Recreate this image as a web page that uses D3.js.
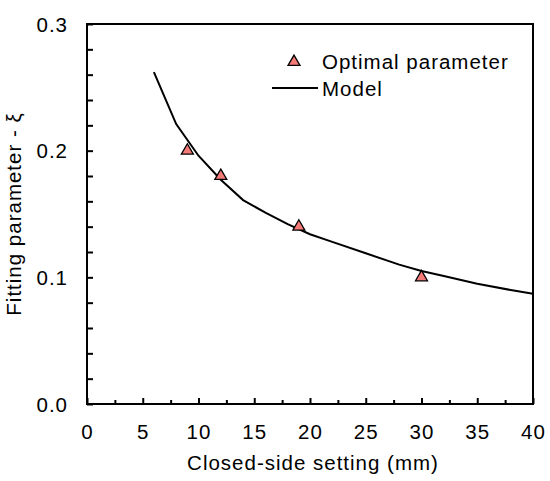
<!DOCTYPE html>
<html>
<head>
<meta charset="utf-8">
<script src="https://cdn.jsdelivr.net/npm/d3@7"></script>
<style>
  body { margin: 0; background: #fff; }
  text { font-family: "Liberation Sans", Arial, sans-serif; font-size: 20.5px; letter-spacing: 1px; fill: #000; }
</style>
</head>
<body>
<script>
// optimal parameter (triangles)
var optX = [9, 12, 19, 30];
var optY = [0.2, 0.18, 0.14, 0.1];

// model curve
var modelX = [6, 8, 10, 12, 14, 16, 18, 20, 22, 25, 28, 30, 32, 35, 38, 40];
var modelY = [0.262, 0.221, 0.196, 0.177, 0.161, 0.151, 0.142, 0.134, 0.128, 0.119, 0.110, 0.105, 0.101, 0.095, 0.090, 0.087];

var xTicks = [0, 5, 10, 15, 20, 25, 30, 35, 40];
var yTicks = [0.0, 0.1, 0.2, 0.3];

var margin = { top: 24, left: 87, right: 17, bottom: 77 },
    width = 550 - margin.left - margin.right,
    height = 481 - margin.top - margin.bottom;

var svg = d3.select('body').append('svg')
    .attr('width', 550)
    .attr('height', 481);

var g = svg.append('g')
    .attr('transform', 'translate(' + margin.left + ',' + margin.top + ')');

var x = d3.scaleLinear().domain([0, 40]).range([0, width]);
var y = d3.scaleLinear().domain([0, 0.3]).range([height, 0]);

// minor ticks (inside)
g.append('g')
    .attr('transform', 'translate(0,' + height + ')')
    .call(d3.axisTop(x).tickValues(d3.range(2.5, 40, 5)).tickSize(4).tickFormat(''))
    .call(function(a) { a.select('.domain').remove(); a.selectAll('line').attr('stroke-width', 2); });

g.append('g')
    .attr('transform', 'translate(0,' + height + ')')
    .call(d3.axisTop(x).tickValues(xTicks).tickSize(6).tickFormat(''))
    .call(function(a) { a.select('.domain').remove(); a.selectAll('line').attr('stroke-width', 2); });

g.append('g')
    .call(d3.axisRight(y).tickValues(d3.range(0, 0.301, 0.02)).tickSize(6).tickFormat(''))
    .call(function(a) { a.select('.domain').remove(); a.selectAll('line').attr('stroke-width', 2); });

// tick labels
g.selectAll('.xlab')
    .data(xTicks)
    .enter().append('text')
    .attr('class', 'xlab')
    .attr('x', function(d) { return x(d) + 0.5; })
    .attr('y', height + 35)
    .attr('text-anchor', 'middle')
    .text(function(d) { return d; });

g.selectAll('.ylab')
    .data(yTicks)
    .enter().append('text')
    .attr('class', 'ylab')
    .attr('x', -19)
    .attr('y', function(d) { return y(d) + 7.5; })
    .attr('text-anchor', 'end')
    .text(function(d) { return d3.format('.1f')(d); });

// frame
g.append('rect')
    .attr('width', width)
    .attr('height', height)
    .attr('fill', 'none')
    .attr('stroke', '#000')
    .attr('stroke-width', 2);

// model line
var line = d3.line()
    .x(function(d, i) { return x(modelX[i]); })
    .y(function(d) { return y(d); });

g.append('path')
    .datum(modelY)
    .attr('d', line)
    .attr('fill', 'none')
    .attr('stroke', '#000')
    .attr('stroke-width', 2);

var tri = d3.symbol().type(d3.symbolTriangle).size(62);

g.selectAll('.opt')
    .data(optY)
    .enter().append('path')
    .attr('class', 'opt')
    .attr('d', tri)
    .attr('transform', function(d, i) { return 'translate(' + x(optX[i]) + ',' + y(d) + ')'; })
    .attr('fill', '#f47a78')
    .attr('stroke', '#000')
    .attr('stroke-width', 1.3);

// legend
svg.append('path')
    .attr('d', tri)
    .attr('transform', 'translate(294,62)')
    .attr('fill', '#f47a78')
    .attr('stroke', '#000')
    .attr('stroke-width', 1.3);

svg.append('text')
    .attr('x', 322)
    .attr('y', 69)
    .text('Optimal parameter');

svg.append('line')
    .attr('x1', 272).attr('x2', 318)
    .attr('y1', 88).attr('y2', 88)
    .attr('stroke', '#000')
    .attr('stroke-width', 2);

svg.append('text')
    .attr('x', 322)
    .attr('y', 96)
    .text('Model');

// axis titles
svg.append('text')
    .attr('x', margin.left + width / 2 + 3)
    .attr('y', 470)
    .attr('text-anchor', 'middle')
    .text('Closed-side setting (mm)');

svg.append('text')
    .attr('transform', 'translate(21,' + (margin.top + height / 2) + ') rotate(-90)')
    .attr('text-anchor', 'middle')
    .text('Fitting parameter - ξ');
</script>
</body>
</html>
